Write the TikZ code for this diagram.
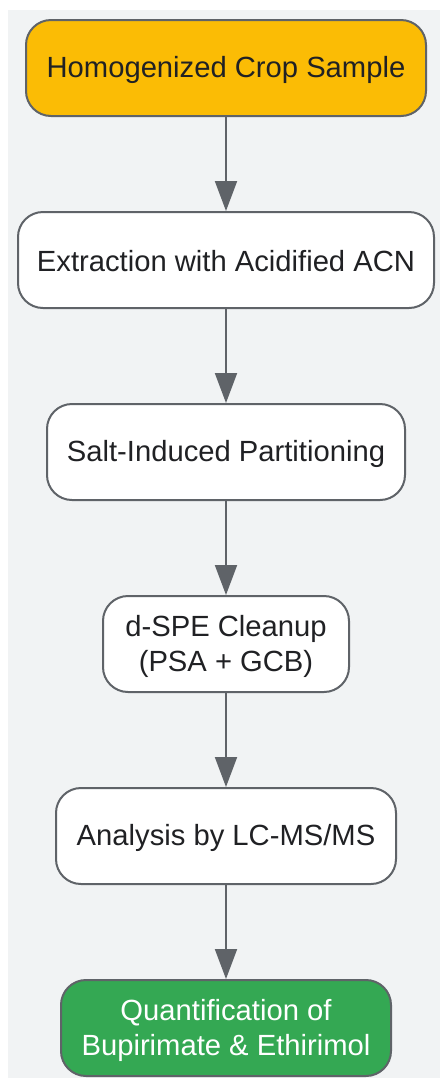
\documentclass[tikz,border=0pt]{standalone}
\usepackage{fontspec}
\setmainfont{Liberation Sans}
\usetikzlibrary{arrows.meta}
\definecolor{bgc}{HTML}{F1F3F4}
\definecolor{edgec}{HTML}{5F6368}
\definecolor{textc}{HTML}{202124}
\definecolor{yellowc}{HTML}{FBBC05}
\definecolor{greenc}{HTML}{34A853}
\newcommand\lnstrut{\rule[-4pt]{0pt}{30pt}}
\tikzset{
  stepbox/.style={draw=edgec, line width=2pt, rounded corners=25pt, fill=white,
    minimum height=96pt, inner sep=0pt, align=center, text=textc,
    font=\fontsize{29.2}{35}\selectfont},
  flow/.style={draw=edgec, line width=2pt, -{Triangle[length=30pt,width=22pt]}}
}
\begin{document}
\begin{tikzpicture}[x=1pt,y=-1pt]
\useasboundingbox (0,0) rectangle (440,1080);
\fill[bgc] (8,10) rectangle (440,1078);
\node[stepbox, fill=yellowc, minimum width=400pt] (a) at (226,68) {\lnstrut Homogenized Crop Sample};
\node[stepbox, minimum width=416pt] (b) at (226,260) {\lnstrut Extraction with Acidified ACN};
\node[stepbox, minimum width=358pt] (c) at (226,452) {\lnstrut Salt-Induced Partitioning};
\node[stepbox, minimum width=246pt] (d) at (226,644) {\lnstrut d-SPE Cleanup\\\lnstrut (PSA + GCB)};
\node[stepbox, minimum width=340pt] (e) at (226,836) {\lnstrut Analysis by LC-MS/MS};
\node[stepbox, fill=greenc, text=white, minimum width=330pt] (f) at (226,1028) {\lnstrut Quantification of\\\lnstrut Bupirimate \& Ethirimol};
\draw[flow] (a) -- (b);
\draw[flow] (b) -- (c);
\draw[flow] (c) -- (d);
\draw[flow] (d) -- (e);
\draw[flow] (e) -- (f);
\end{tikzpicture}
\end{document}
